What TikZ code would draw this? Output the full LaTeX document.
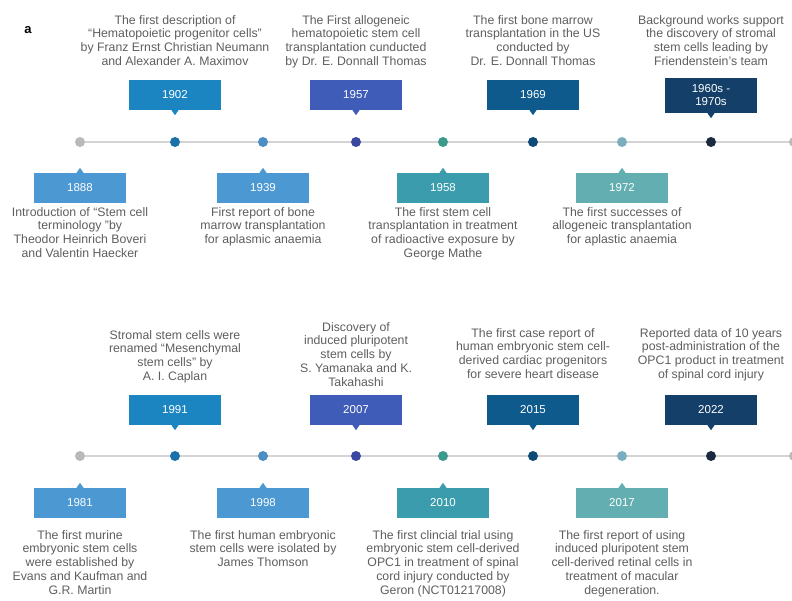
\documentclass[tikz,border=0pt]{standalone}
\usepackage{fontspec}
\setmainfont{Liberation Sans}
\usetikzlibrary{calc,positioning}
\definecolor{lineg}{HTML}{D4D4D4}
\definecolor{txtg}{HTML}{5E5E5E}
\definecolor{dotg}{HTML}{B9B9B9}
% year boxes
\definecolor{cA}{HTML}{1B85C2}
\definecolor{cB}{HTML}{4C98D2}
\definecolor{cC}{HTML}{3E5CB8}
\definecolor{cD}{HTML}{3A9CAC}
\definecolor{cE}{HTML}{0F5A8C}
\definecolor{cF}{HTML}{62AEB0}
\definecolor{cG}{HTML}{143F68}
% dots
\definecolor{dA}{HTML}{1A72A8}
\definecolor{dB}{HTML}{4A8EC4}
\definecolor{dC}{HTML}{3A48A0}
\definecolor{dD}{HTML}{3A9A8C}
\definecolor{dE}{HTML}{0E4A78}
\definecolor{dF}{HTML}{7AAEBE}
\definecolor{dG}{HTML}{1B2A40}
\tikzset{
  yearbox/.style={fill=#1, text=white, minimum width=92pt, minimum height=30pt, inner sep=2pt, align=center, font=\fontsize{11.5}{13}\selectfont},
  event/.style={align=center, text=txtg, inner sep=0pt, font=\fontsize{12.3}{13.8}\selectfont},
  dot/.style={circle, fill=#1, minimum size=10pt, inner sep=0pt},
  timeline/.style={draw=lineg, line width=2.5pt},
  panel/.style={font=\bfseries\fontsize{13}{15}\selectfont}}

\begin{document}
\begin{tikzpicture}[x=1pt, y=-1pt]
  \useasboundingbox (0,0) rectangle (792,601);
  \node[panel] (lbl) at (28,30) {a};

  % the two time axes
  \foreach \r/\ly in {1/142, 2/456} {
    \coordinate (s\r) at (80,\ly);
    \coordinate (e\r) at (794,\ly);
    \draw[timeline] (s\r) -- (e\r);
    \node[dot=dotg] (ds\r) at (s\r) {};
    \node[dot=dotg] (de\r) at (e\r) {};
    \foreach \x/\c in {175/dA, 263/dB, 356/dC, 443/dD, 533/dE, 622/dF, 711/dG}
      \node[dot=\c] (d\r x\x) at (\x,\ly) {};
  }

  % events above the axes
  \foreach \yr/\x/\by/\ty/\c/\txt in {
    1902/175/95/15/cA/{The first description of\\``Hematopoietic progenitor cells''\\by Franz Ernst Christian Neumann\\and Alexander A. Maximov},
    1957/356/95/15/cC/{The First allogeneic\\hematopoietic stem cell\\transplantation cunducted\\by Dr. E. Donnall Thomas},
    1969/533/95/15/cE/{The first bone marrow\\transplantation in the US\\conducted by\\Dr. E. Donnall Thomas},
    1991/175/410/330/cA/{Stromal stem cells were\\renamed ``Mesenchymal\\stem cells'' by\\A. I. Caplan},
    2007/356/410/322/cC/{Discovery of\\induced pluripotent\\stem cells by\\S. Yamanaka and K.\\Takahashi},
    2015/533/410/328/cE/{The first case report of\\human embryonic stem cell-\\derived cardiac progenitors\\for severe heart disease},
    2022/711/410/328/cG/{Reported data of 10 years\\post-administration of the\\OPC1 product in treatment\\of spinal cord injury}} {
    \node[yearbox=\c] (y\yr) at (\x,\by) {\yr};
    \fill[\c] ($(y\yr.south)+(-3.5,0)$) -- ++(7,0) -- ++(-3.5,5) -- cycle;
    \node[event, anchor=north] (t\yr) at (\x,\ty) {\txt};
  }
  \node[yearbox=cG, minimum height=35pt] (y1960s) at (711,95.5) {1960s -\\1970s};
  \fill[cG] ($(y1960s.south)+(-3.5,0)$) -- ++(7,0) -- ++(-3.5,5) -- cycle;
  \node[event, anchor=north] (t1960s) at (711,15) {Background works support\\the discovery of stromal\\stem cells leading by\\Friendenstein's team};

  % events below the axes
  \foreach \yr/\x/\by/\ty/\c/\txt in {
    1888/80/188/207/cB/{Introduction of ``Stem cell\\terminology ''by\\Theodor Heinrich Boveri\\and Valentin Haecker},
    1939/263/188/207/cB/{First report of bone\\marrow transplantation\\for aplasmic anaemia},
    1958/443/188/207/cD/{The first stem cell\\transplantation in treatment\\of radioactive exposure by\\George Mathe},
    1972/622/188/207/cF/{The first successes of\\allogeneic transplantation\\for aplastic anaemia},
    1981/80/503/530/cB/{The first murine\\embryonic stem cells\\were established by\\Evans and Kaufman and\\G.R. Martin},
    1998/263/503/530/cB/{The first human embryonic\\stem cells were isolated by\\James Thomson},
    2010/443/503/530/cD/{The first clincial trial using\\embryonic stem cell-derived\\OPC1 in treatment of spinal\\cord injury conducted by\\Geron (NCT01217008)},
    2017/622/503/530/cF/{The first report of using\\induced pluripotent stem\\cell-derived retinal cells in\\treatment of macular\\degeneration.}} {
    \node[yearbox=\c] (y\yr) at (\x,\by) {\yr};
    \fill[\c] ($(y\yr.north)+(-3.5,0)$) -- ++(7,0) -- ++(-3.5,-5) -- cycle;
    \node[event, anchor=north] (t\yr) at (\x,\ty) {\txt};
  }
\end{tikzpicture}
\end{document}
